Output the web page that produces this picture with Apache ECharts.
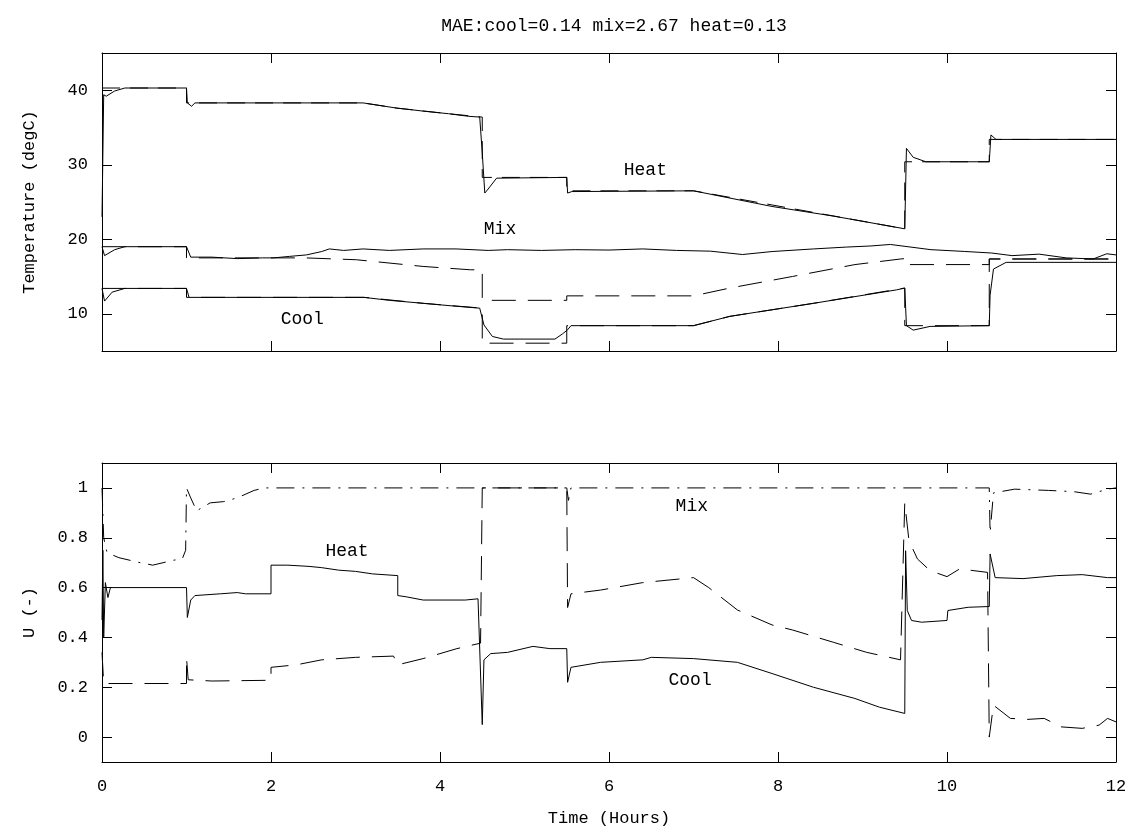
<!DOCTYPE html>
<html>
<head>
<meta charset="utf-8">
<script src="https://cdn.jsdelivr.net/npm/echarts@6/dist/echarts.min.js"></script>
<style>
  html, body { margin: 0; padding: 0; background: #fff; }
  #chart-container { width: 1131px; height: 830px; }
</style>
</head>
<body>
<div id="chart-container"></div>
<script>
var dom = document.getElementById("chart-container");
var myChart = echarts.init(dom, null, { renderer: "canvas" });

// ---- temperatures (top panel), [hours, degC] ----
const heatTemp = [
  [0, 23.0], [0.02, 39.4], [0.05, 39.2], [0.15, 39.9], [0.27, 40.3], [1.0, 40.3],
  [1.01, 38.3], [1.06, 37.85], [1.1, 38.3], [3.09, 38.3], [3.29, 37.95], [3.49, 37.6],
  [3.65, 37.4], [3.8, 37.2], [4.1, 36.85], [4.34, 36.5], [4.47, 36.4], [4.5, 31.6],
  [4.53, 26.2], [4.56, 26.6], [4.67, 28.2], [5.5, 28.3], [5.51, 26.2], [5.56, 26.4],
  [7.0, 26.5], [7.93, 24.4], [8.66, 23.1], [9.5, 21.4], [9.52, 32.2], [9.6, 31.0],
  [9.75, 30.4], [10.5, 30.4], [10.52, 34.0], [10.58, 33.4], [12, 33.4]
];
const heatTempRef = [
  [0, 40.3], [1.0, 40.3], [1.0, 38.3], [3.09, 38.3], [3.49, 37.6], [4.1, 36.85],
  [4.5, 36.4], [4.5, 28.3], [5.5, 28.3], [5.5, 26.5], [7.0, 26.5], [9.5, 21.4],
  [9.5, 30.4], [10.5, 30.4], [10.5, 33.4], [12, 33.4]
];
const mixTemp = [
  [0, 19.0], [0.03, 17.8], [0.15, 18.6], [0.27, 19.0], [1.0, 19.0], [1.05, 17.6],
  [1.3, 17.6], [1.6, 17.4], [1.9, 17.5], [2.03, 17.5], [2.22, 17.7], [2.42, 17.9],
  [2.6, 18.35], [2.69, 18.7], [2.86, 18.5], [3.09, 18.7], [3.4, 18.5], [3.8, 18.7],
  [4.19, 18.7], [4.57, 18.5], [4.8, 18.6], [5.2, 18.5], [5.6, 18.6], [6.0, 18.55],
  [6.4, 18.7], [6.8, 18.5], [7.2, 18.4], [7.58, 17.95], [7.93, 18.35], [8.42, 18.7],
  [8.81, 18.95], [9.1, 19.1], [9.33, 19.3], [9.81, 18.6], [10.21, 18.36], [10.53, 18.15],
  [10.77, 17.8], [11.09, 18.0], [11.41, 17.5], [11.73, 17.35], [11.89, 18.05], [12, 17.9]
];
const mixTempRef = [
  [0, 19.0], [1.0, 19.0], [1.0, 17.5], [2.4, 17.5], [3.01, 17.25], [3.8, 16.35],
  [4.36, 15.9], [4.5, 15.9], [4.5, 11.8], [5.5, 11.8], [5.5, 12.4], [7.0, 12.4],
  [7.43, 13.45], [8.17, 15.0], [8.91, 16.6], [9.45, 17.35], [9.5, 17.4], [9.5, 16.6],
  [10.5, 16.6], [10.5, 17.35], [12, 17.35]
];
const coolTemp = [
  [0, 13.4], [0.03, 11.7], [0.12, 12.9], [0.27, 13.4], [1.0, 13.4], [1.03, 12.2],
  [3.1, 12.2], [3.4, 11.8], [3.8, 11.4], [4.2, 11.0], [4.47, 10.75], [4.52, 8.5],
  [4.62, 6.95], [4.75, 6.6], [5.36, 6.6], [5.45, 7.3], [5.51, 7.85], [5.55, 8.4],
  [7.0, 8.4], [7.43, 9.65], [8.42, 11.4], [9.4, 13.2], [9.5, 13.45], [9.52, 8.4],
  [9.6, 7.8], [9.8, 8.3], [10.5, 8.4], [10.51, 12.5], [10.55, 16.0], [10.7, 16.9],
  [12, 16.9]
];
const coolTempRef = [
  [0, 13.4], [1.0, 13.4], [1.0, 12.2], [3.1, 12.2], [3.8, 11.4], [4.5, 10.75],
  [4.5, 6.05], [5.5, 6.05], [5.5, 8.4], [7.0, 8.4], [7.43, 9.65], [8.42, 11.4],
  [9.5, 13.45], [9.5, 8.4], [10.5, 8.4], [10.5, 17.35], [12, 17.35]
];

// ---- valve signals (bottom panel), [hours, u] ----
const heatU = [
  [0, 0.47], [0.01, 0.75], [0.02, 0.4], [0.04, 0.62], [0.07, 0.56], [0.1, 0.6],
  [1.0, 0.6], [1.01, 0.48], [1.05, 0.55], [1.1, 0.568], [1.4, 0.575], [1.6, 0.58],
  [1.7, 0.575], [2.0, 0.575], [2.0, 0.69], [2.2, 0.69], [2.45, 0.685], [2.6, 0.68],
  [2.8, 0.67], [3.0, 0.665], [3.2, 0.655], [3.5, 0.648], [3.5, 0.568], [3.6, 0.563],
  [3.8, 0.55], [4.3, 0.55], [4.45, 0.555], [4.5, 0.05], [4.52, 0.31], [4.6, 0.335],
  [4.8, 0.34], [5.1, 0.364], [5.3, 0.355], [5.5, 0.355], [5.51, 0.22], [5.55, 0.28],
  [5.9, 0.3], [6.4, 0.31], [6.5, 0.32], [7.0, 0.315], [7.52, 0.3], [7.93, 0.255],
  [8.42, 0.2], [8.91, 0.155], [9.2, 0.12], [9.5, 0.095], [9.51, 0.748], [9.53, 0.508],
  [9.58, 0.468], [9.7, 0.461], [10.0, 0.468], [10.01, 0.508], [10.25, 0.521],
  [10.5, 0.524], [10.51, 0.735], [10.57, 0.64], [10.9, 0.636], [11.3, 0.648],
  [11.6, 0.652], [11.9, 0.64], [12, 0.64]
];
const coolU = [
  [0, 0.34], [0.02, 0.215], [1.0, 0.215], [1.0, 0.32], [1.02, 0.23], [1.3, 0.225],
  [2.0, 0.228], [2.0, 0.28], [2.3, 0.29], [2.6, 0.31], [3.0, 0.32], [3.45, 0.325],
  [3.5, 0.29], [3.8, 0.315], [4.2, 0.355], [4.48, 0.377], [4.5, 1.0], [5.5, 1.0],
  [5.51, 0.52], [5.55, 0.575], [5.9, 0.59], [6.4, 0.62], [7.0, 0.64], [7.18, 0.6],
  [7.52, 0.51], [7.93, 0.45], [8.17, 0.43], [8.66, 0.38], [9.05, 0.34], [9.45, 0.31],
  [9.5, 0.94], [9.55, 0.788], [9.65, 0.715], [9.8, 0.668], [10.0, 0.644], [10.15, 0.675],
  [10.48, 0.661], [10.5, 0.0], [10.55, 0.128], [10.75, 0.075], [10.95, 0.071],
  [11.15, 0.075], [11.35, 0.041], [11.6, 0.035], [11.8, 0.048], [11.9, 0.075], [12, 0.061]
];
const mixU = [
  [0, 1.0], [0.02, 0.8], [0.06, 0.74], [0.2, 0.72], [0.45, 0.7], [0.6, 0.69],
  [0.85, 0.71], [0.95, 0.715], [0.99, 0.75], [1.0, 1.0], [1.05, 0.96], [1.12, 0.908],
  [1.28, 0.94], [1.44, 0.945], [1.6, 0.96], [1.8, 0.99], [1.92, 1.0], [4.5, 1.0],
  [5.5, 1.0], [5.52, 0.95], [5.55, 1.0], [10.5, 1.0], [10.51, 0.82], [10.55, 0.98],
  [10.8, 0.995], [11.2, 0.99], [11.5, 0.985], [11.7, 0.975], [11.9, 0.995], [12, 1.0]
];

// curve names written inside the panels
const tempNotes = [[6.43, 29.3, "Heat"], [4.71, 21.3, "Mix"], [2.37, 9.2, "Cool"]];
const uNotes = [[2.9, 0.744, "Heat"], [6.98, 0.928, "Mix"], [6.96, 0.228, "Cool"]];

const tempTicks = [10, 20, 30, 40];
const uTicks = [0, 0.2, 0.4, 0.6, 0.8, 1];
const titleText = "MAE:cool=0.14 mix=2.67 heat=0.13";

const FONT = "Liberation Mono";
const ink = "#000";

function xAx(grid, pos, labels) {
  return {
    type: "value", gridIndex: grid, position: pos, min: 0, max: 12, interval: 2,
    axisLine: { show: true, onZero: false, lineStyle: { color: ink, width: 1 } },
    axisTick: { show: true, inside: true, length: 10, lineStyle: { color: ink } },
    axisLabel: { show: labels, color: ink, fontFamily: FONT, fontSize: 17, margin: 16 },
    splitLine: { show: false },
    name: labels ? "Time (Hours)" : "",
    nameLocation: "middle", nameGap: 48,
    nameTextStyle: { color: ink, fontFamily: FONT, fontSize: 17 }
  };
}
function yAx(grid, pos, min, max, ticks, name) {
  const labels = pos === "left";
  return {
    type: "value", gridIndex: grid, position: pos, min: min, max: max,
    axisLine: { show: true, onZero: false, lineStyle: { color: ink, width: 1 } },
    axisTick: { show: true, inside: true, length: 10, customValues: ticks, lineStyle: { color: ink } },
    axisLabel: { show: labels, customValues: ticks, color: ink, fontFamily: FONT, fontSize: 17, margin: 14 },
    splitLine: { show: false },
    name: labels ? name : "",
    nameLocation: "middle", nameRotate: 90, nameGap: 64,
    nameTextStyle: { color: ink, fontFamily: FONT, fontSize: 17 }
  };
}
function curve(data, xi, yi, type) {
  return {
    type: "line", data: data, xAxisIndex: xi, yAxisIndex: yi,
    showSymbol: false, symbol: "none", silent: true,
    lineStyle: { color: ink, width: 1, type: type },
    emphasis: { disabled: true }
  };
}
function notes(data, xi, yi) {
  return {
    type: "scatter", data: data, xAxisIndex: xi, yAxisIndex: yi,
    symbolSize: 1, itemStyle: { color: "rgba(0,0,0,0)" }, silent: true,
    label: {
      show: true, position: "inside", color: ink, opacity: 1, fontFamily: FONT, fontSize: 18,
      formatter: (p) => p.data[2]
    }
  };
}

var option = {
  animation: false,
  backgroundColor: "#fff",
  title: {
    text: titleText, left: 609, top: 12, textAlign: "center",
    textStyle: { color: ink, fontFamily: FONT, fontSize: 18, fontWeight: "normal" }
  },
  grid: [
    { left: 102, right: 15, top: 53, height: 298 },
    { left: 102, right: 15, top: 463, height: 299 }
  ],
  xAxis: [xAx(0, "bottom", false), xAx(0, "top", false), xAx(1, "bottom", true), xAx(1, "top", false)],
  yAxis: [
    yAx(0, "left", 5, 45, tempTicks, "Temperature (degC)"),
    yAx(0, "right", 5, 45, tempTicks, ""),
    yAx(1, "left", -0.1, 1.1, uTicks, "U (-)"),
    yAx(1, "right", -0.1, 1.1, uTicks, "")
  ],
  series: [
    curve(heatTempRef, 0, 0, [18, 10]),
    curve(mixTempRef, 0, 0, [24, 12]),
    curve(coolTempRef, 0, 0, [24, 12]),
    curve(heatTemp, 0, 0, "solid"),
    curve(mixTemp, 0, 0, "solid"),
    curve(coolTemp, 0, 0, "solid"),
    notes(tempNotes, 0, 0),
    curve(heatU, 2, 2, "solid"),
    curve(coolU, 2, 2, [24, 12]),
    curve(mixU, 2, 2, [18, 8, 2, 8]),
    notes(uNotes, 2, 2)
  ]
};

myChart.setOption(option);
window.addEventListener("resize", myChart.resize);
</script>
</body>
</html>
